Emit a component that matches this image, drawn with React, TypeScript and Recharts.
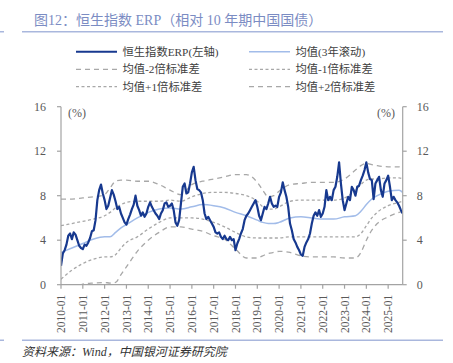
import React from 'react';
import { LineChart, Line, XAxis, YAxis } from 'recharts';

// 恒生指数ERP monthly, starting 2010-01 (month index 0) to 2025-09
const erpValues = [
  // 2010
  1.7, 2.8, 3.1, 3.6, 4.4, 4.6, 4.1, 4.7, 4.5, 4.0, 3.5, 3.3,
  // 2011
  3.2, 3.6, 3.5, 3.8, 4.2, 4.8, 4.9, 5.8, 7.6, 8.5, 9.0, 8.2,
  // 2012
  7.6, 6.8, 7.1, 7.8, 8.5, 8.1, 7.5, 6.8, 7.0, 6.4, 6.0, 5.6,
  // 2013
  5.4, 5.9, 6.3, 6.8, 7.2, 8.0, 7.1, 6.7, 6.2, 6.5, 6.1, 6.4,
  // 2014
  7.0, 7.4, 7.0, 6.7, 6.4, 6.2, 5.9, 6.4, 6.7, 7.3, 7.4, 7.0,
  // 2015
  7.1, 7.3, 6.7, 5.6, 5.3, 5.8, 7.3, 8.8, 9.1, 8.2, 8.3, 9.1,
  // 2016
  10.1, 10.6, 9.4, 8.6, 8.5, 8.3, 7.6, 6.4, 5.9, 6.1, 5.8, 5.5,
  // 2017
  5.2, 4.7, 4.6, 4.7, 4.3, 4.1, 4.4, 4.1, 4.0, 4.3, 4.0, 4.1,
  // 2018
  3.1, 3.7, 4.1, 4.6, 5.0, 5.8, 6.2, 6.4, 6.7, 7.0, 7.3, 7.6,
  // 2019
  7.0, 6.2, 5.8, 6.4, 7.0, 6.8, 7.3, 7.9, 7.3, 7.0, 7.1, 7.0,
  // 2020
  7.9, 8.3, 9.2, 8.5, 7.9, 7.0, 5.5, 4.9, 4.1, 3.8, 3.4, 3.1,
  // 2021
  2.7, 2.6, 3.4, 3.8, 4.1, 4.6, 5.5, 6.2, 6.5, 6.2, 6.7, 6.1,
  // 2022
  6.4, 7.0, 8.5, 7.6, 7.9, 7.6, 8.5, 8.8, 9.7, 11.0, 9.1, 7.6,
  // 2023
  6.7, 7.3, 7.9, 7.6, 8.8, 8.5, 8.0, 8.8, 8.9, 9.4, 9.8, 10.3,
  // 2024
  11.0, 10.1, 9.5, 9.4, 7.7, 9.1, 9.4, 9.7, 8.5, 7.9, 9.1, 9.4,
  // 2025
  9.8, 8.8, 7.6, 7.9, 7.6, 7.4, 7.1, 6.7, 6.4,
];

// months (index from 2010-01) at which the band lines were read
const bandMonths = [0, 6, 12, 18, 24, 27, 30, 33, 36, 42, 48, 54, 60, 66, 72, 78, 84, 90, 96, 102, 108, 111, 114, 117, 120, 126, 132, 138, 144, 150, 156, 162, 165, 168, 171, 174, 180, 186, 188];

const meanValues = [2.9, 3.3, 3.7, 4.1, 4.3, 4.3, 4.7, 5.1, 5.4, 6.0, 6.5, 6.8, 6.9, 6.8, 7.0, 7.2, 7.1, 6.9, 6.5, 6.2, 5.8, 5.6, 5.5, 5.5, 5.6, 6.0, 6.1, 6.0, 5.9, 5.9, 6.1, 6.2, 6.6, 7.2, 7.7, 8.0, 8.4, 8.5, 8.3];
const plus1Values = [5.3, 5.5, 5.7, 5.9, 6.2, 6.5, 6.9, 7.2, 7.4, 7.5, 7.5, 7.5, 7.6, 7.5, 7.9, 8.2, 8.3, 8.3, 8.2, 8.0, 7.5, 7.0, 6.8, 6.8, 7.0, 7.5, 7.6, 7.6, 7.6, 7.6, 7.8, 8.5, 9.0, 9.4, 9.5, 9.5, 9.6, 9.6, 9.5];
const plus2Values = [7.7, 7.7, 7.8, 7.9, 8.1, 8.7, 9.3, 9.4, 9.4, 9.3, 9.3, 9.0, 8.5, 8.1, 9.0, 9.3, 9.5, 9.7, 9.9, 9.9, 9.2, 8.5, 7.9, 8.0, 8.4, 9.0, 9.1, 9.2, 9.2, 9.2, 9.5, 10.3, 10.7, 10.9, 10.8, 10.7, 10.6, 10.6, 10.5];
const minus1Values = [0.5, 1.3, 1.9, 2.3, 2.5, 2.5, 2.7, 3.3, 3.8, 4.3, 5.0, 5.6, 6.0, 6.0, 6.0, 5.9, 5.6, 5.2, 4.7, 4.3, 4.2, 4.2, 4.2, 4.2, 4.2, 4.3, 4.3, 4.3, 4.3, 4.3, 4.3, 4.3, 4.6, 5.3, 6.0, 6.5, 7.1, 7.4, 7.5];
const minus2Values = [-1.9, -0.9, 0.05, 0.15, 0.2, 0.15, 0.2, 0.9, 1.6, 3.0, 4.0, 4.7, 5.2, 5.2, 5.0, 4.8, 4.4, 4.1, 3.2, 2.4, 2.4, 2.6, 2.8, 2.9, 3.0, 2.9, 2.6, 2.5, 2.5, 2.5, 2.4, 2.4, 2.9, 4.0, 4.9, 5.5, 6.1, 6.5, 6.6];

const yearLabels = ['2010-01', '2011-01', '2012-01', '2013-01', '2014-01', '2015-01', '2016-01', '2017-01', '2018-01', '2019-01', '2020-01', '2021-01', '2022-01', '2023-01', '2024-01', '2025-01'];
const yTicks = [0, 4, 8, 12, 16];

const legendLabels = ['恒生指数ERP(左轴)', '均值(3年滚动)', '均值-2倍标准差', '均值-1倍标准差', '均值+1倍标准差', '均值+2倍标准差'];

const table = erpValues.map((v, i) => {
  const row: any = { m: i, erp: v };
  const k = bandMonths.indexOf(i);
  if (k >= 0) {
    row.mean = meanValues[k];
    row.p1 = plus1Values[k];
    row.p2 = plus2Values[k];
    row.n1 = minus1Values[k];
    row.n2 = minus2Values[k];
  }
  return row;
});
const xTicks = yearLabels.map((_, i) => i * 12);

const SERIF = "'Liberation Serif','Times New Roman','Noto Sans CJK SC',serif";
const AXIS = '#a3a3a3';
const TICK_TEXT = '#595959';
const ERP_COLOR = '#17398f';
const MEAN_COLOR = '#a2bce9';
const DASH_COLOR = '#a8a8a8';
const DASH1 = '3 2.5';
const DASH2 = '5 4';

const XTick = (props: any) => {
  const { x, y, payload } = props;
  const label = yearLabels[Math.round(payload.value / 12)];
  return (
    <text
      transform={`translate(${x},${y}) rotate(-90)`}
      textAnchor="end"
      dy="0.36em"
      fontSize={11.5}
      fontFamily={SERIF}
      fill={TICK_TEXT}
    >
      {label}
    </text>
  );
};

const legendItems = [
  { x: 76, y: 51.7, color: ERP_COLOR, dash: undefined as string | undefined, w: 2 },
  { x: 249, y: 51.7, color: MEAN_COLOR, dash: undefined as string | undefined, w: 1.5 },
  { x: 76, y: 69.3, color: DASH_COLOR, dash: DASH2, w: 1.3 },
  { x: 249, y: 69.3, color: DASH_COLOR, dash: DASH1, w: 1.3 },
  { x: 76, y: 86.7, color: DASH_COLOR, dash: DASH1, w: 1.3 },
  { x: 249, y: 86.7, color: DASH_COLOR, dash: DASH2, w: 1.3 },
];

export default function App() {
  return (
    <div style={{ position: 'absolute', left: 0, top: 0, width: 453, height: 363, background: '#fff', overflow: 'hidden' }}>
      <LineChart
        width={453}
        height={363}
        data={table}
        margin={{ top: 106.7, right: 10.3, bottom: 28.3, left: 21 }}
        style={{ position: 'absolute', left: 0, top: 0 }}
      >
        <XAxis
          dataKey="m"
          type="number"
          domain={[0, 188]}
          ticks={xTicks}
          interval={0}
          tick={<XTick />}
          tickSize={4}
          tickMargin={6}
          height={50}
          axisLine={{ stroke: AXIS, strokeWidth: 1.2 }}
          tickLine={{ stroke: AXIS, strokeWidth: 1.2 }}
          allowDataOverflow
        />
        <YAxis
          yAxisId="l"
          domain={[0, 16]}
          ticks={yTicks}
          interval={0}
          width={40}
          tickSize={4}
          tickMargin={11}
          axisLine={{ stroke: AXIS, strokeWidth: 1.2 }}
          tickLine={{ stroke: AXIS, strokeWidth: 1.2 }}
          tick={{ fill: TICK_TEXT, fontSize: 12, fontFamily: SERIF }}
          allowDataOverflow
        />
        <YAxis
          yAxisId="r"
          orientation="right"
          domain={[0, 16]}
          ticks={yTicks}
          interval={0}
          width={40}
          tickSize={4}
          tickMargin={10}
          axisLine={{ stroke: AXIS, strokeWidth: 1.2 }}
          tickLine={{ stroke: AXIS, strokeWidth: 1.2 }}
          tick={{ fill: TICK_TEXT, fontSize: 12, fontFamily: SERIF, textAnchor: 'start' }}
          allowDataOverflow
        />
        <Line yAxisId="l" dataKey="n2" type="monotone" connectNulls stroke={DASH_COLOR} strokeWidth={1.3} strokeDasharray={DASH2} dot={false} activeDot={false} isAnimationActive={false} />
        <Line yAxisId="l" dataKey="n1" type="monotone" connectNulls stroke={DASH_COLOR} strokeWidth={1.3} strokeDasharray={DASH1} dot={false} activeDot={false} isAnimationActive={false} />
        <Line yAxisId="l" dataKey="p1" type="monotone" connectNulls stroke={DASH_COLOR} strokeWidth={1.3} strokeDasharray={DASH1} dot={false} activeDot={false} isAnimationActive={false} />
        <Line yAxisId="l" dataKey="p2" type="monotone" connectNulls stroke={DASH_COLOR} strokeWidth={1.3} strokeDasharray={DASH2} dot={false} activeDot={false} isAnimationActive={false} />
        <Line yAxisId="l" dataKey="mean" type="monotone" connectNulls stroke={MEAN_COLOR} strokeWidth={1.5} dot={false} activeDot={false} isAnimationActive={false} />
        <Line yAxisId="l" dataKey="erp" type="linear" stroke={ERP_COLOR} strokeWidth={2.2} strokeLinejoin="round" dot={false} activeDot={false} isAnimationActive={false} />
      </LineChart>
      <svg width={453} height={363} style={{ position: 'absolute', left: 0, top: 0, pointerEvents: 'none' }}>
        <text x={34} y={20} dominantBaseline="central" fontSize={14} fontFamily={SERIF} fill="#7b8cc3">
          图12：恒生指数 ERP（相对 10 年期中国国债）
        </text>
        <rect x={22} y={31} width={421} height={1.5} fill="#a9b7dd" />
        <rect x={0} y={31} width={4} height={1.5} fill="#a9b7dd" />
        {legendItems.map((it, i) => (
          <g key={i}>
            <line x1={it.x} x2={it.x + 41} y1={it.y} y2={it.y} stroke={it.color} strokeWidth={it.w} strokeDasharray={it.dash} />
            <text x={it.x + 46.5} y={it.y} dominantBaseline="central" fontSize={11.3} fontFamily={SERIF} fill="#404040">
              {legendLabels[i]}
            </text>
          </g>
        ))}
        <text x={77} y={113} textAnchor="middle" dominantBaseline="central" fontSize={12} fontFamily={SERIF} fill={TICK_TEXT}>(%)</text>
        <text x={386} y={113} textAnchor="middle" dominantBaseline="central" fontSize={12} fontFamily={SERIF} fill={TICK_TEXT}>(%)</text>
        <rect x={22} y={339.5} width={421} height={1.5} fill="#a9b7dd" />
        <rect x={0} y={339.5} width={4} height={1.5} fill="#a9b7dd" />
        <text x={22} y={352} dominantBaseline="central" fontSize={12} fontStyle="italic" fontFamily={SERIF} fill="#333">
          资料来源：Wind，中国银河证券研究院
        </text>
      </svg>
    </div>
  );
}
